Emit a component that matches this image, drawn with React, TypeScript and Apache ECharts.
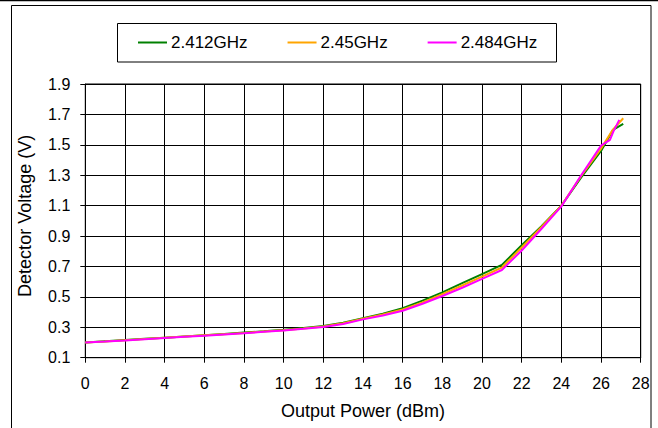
import React, { useEffect, useRef } from "react";
import * as echarts from "echarts";

const seriesNames = ["2.412GHz", "2.45GHz", "2.484GHz"];
const seriesColors = ["#008000", "#FFA500", "#FF00FF"];

const powerGreen = [0, 1, 2, 3, 4, 5, 6, 7, 8, 9, 10, 11, 12, 13, 14, 15, 16, 17, 18, 19, 20, 21, 22, 23, 24, 25, 26, 26.6, 27.12];
const voltGreen = [0.2, 0.208, 0.216, 0.224, 0.232, 0.24, 0.248, 0.256, 0.265, 0.274, 0.284, 0.295, 0.308, 0.33, 0.36, 0.39, 0.425, 0.475, 0.53, 0.59, 0.65, 0.71, 0.84, 0.965, 1.1, 1.285, 1.46, 1.598, 1.637];

const powerOrange = [0, 1, 2, 3, 4, 5, 6, 7, 8, 9, 10, 11, 12, 13, 14, 15, 16, 17, 18, 19, 20, 21, 22, 23, 24, 25, 26, 26.6, 27.12];
const voltOrange = [0.2, 0.207, 0.215, 0.223, 0.231, 0.239, 0.247, 0.255, 0.263, 0.272, 0.281, 0.292, 0.305, 0.326, 0.356, 0.385, 0.417, 0.463, 0.518, 0.575, 0.633, 0.693, 0.825, 0.96, 1.1, 1.295, 1.475, 1.6, 1.675];

const powerMagenta = [0, 1, 2, 3, 4, 5, 6, 7, 8, 9, 10, 11, 12, 13, 14, 15, 16, 17, 18, 19, 20, 21, 22, 23, 24, 25, 26, 26.45, 26.62, 26.92];
const voltMagenta = [0.2, 0.206, 0.213, 0.221, 0.229, 0.237, 0.245, 0.253, 0.261, 0.27, 0.279, 0.29, 0.302, 0.322, 0.352, 0.378, 0.409, 0.455, 0.506, 0.56, 0.618, 0.677, 0.805, 0.948, 1.095, 1.3, 1.495, 1.532, 1.587, 1.664];

const xTitle = "Output Power (dBm)";
const yTitle = "Detector Voltage (V)";

const FONT = "'Liberation Sans', Arial, sans-serif";

function pairs(xs: number[], ys: number[]) {
  return xs.map((x, i) => [x, ys[i]]);
}

export default function App() {
  const ref = useRef<HTMLDivElement>(null);
  useEffect(() => {
    if (!ref.current) return;
    const chart = echarts.init(ref.current, null, { renderer: "svg" });
    const allData = [
      pairs(powerGreen, voltGreen),
      pairs(powerOrange, voltOrange),
      pairs(powerMagenta, voltMagenta),
    ];
    chart.setOption({
      animation: false,
      backgroundColor: "#fff",
      textStyle: { fontFamily: FONT, color: "#000" },
      graphic: [
        { type: "line", shape: { x1: 0, y1: 0.5, x2: 658, y2: 0.5 }, style: { stroke: "#000", lineWidth: 1.5 } },
        { type: "rect", shape: { x: 11.5, y: 5.5, width: 639.5, height: 430 }, style: { fill: "none", stroke: "#000", lineWidth: 1 } },
        { type: "rect", shape: { x: 117.5, y: 23.5, width: 439, height: 38.5 }, style: { fill: "none", stroke: "#000", lineWidth: 1 } },
      ],
      legend: {
        left: 138,
        top: 34,
        padding: 0,
        itemGap: 40,
        itemWidth: 29,
        itemHeight: 2,
        icon: "rect",
        textStyle: { fontSize: 17, fontFamily: FONT, color: "#000", padding: [0, 0, 0, -1] },
        data: seriesNames,
      },
      grid: {
        left: 85.3,
        right: 17.3,
        top: 84,
        bottom: 70.3,
        show: true,
        borderColor: "#000",
        borderWidth: 1,
      },
      xAxis: {
        type: "value",
        min: 0,
        max: 28,
        interval: 2,
        name: xTitle,
        nameLocation: "middle",
        nameGap: 44,
        nameTextStyle: { fontSize: 18, fontFamily: FONT, color: "#000" },
        axisLine: { show: true, lineStyle: { color: "#000", width: 1 } },
        axisTick: { show: true, inside: false, length: 5, lineStyle: { color: "#000" } },
        axisLabel: { fontSize: 16, fontFamily: FONT, color: "#000", margin: 18 },
        splitLine: { show: true, lineStyle: { color: "#000", width: 1 } },
      },
      yAxis: {
        type: "value",
        min: 0.1,
        max: 1.9,
        interval: 0.2,
        name: yTitle,
        nameLocation: "middle",
        nameGap: 51,
        nameTextStyle: { fontSize: 18, fontFamily: FONT, color: "#000", padding: [0, 0, 0, 10] },
        axisLine: { show: true, lineStyle: { color: "#000", width: 1 } },
        axisTick: { show: true, inside: false, length: 5, lineStyle: { color: "#000" } },
        axisLabel: {
          fontSize: 16,
          fontFamily: FONT,
          color: "#000",
          margin: 15,
          formatter: (v: number) => v.toFixed(1),
        },
        splitLine: { show: true, lineStyle: { color: "#000", width: 1 } },
      },
      series: seriesNames.map((name, i) => ({
        name,
        type: "line",
        data: allData[i],
        showSymbol: false,
        symbol: "none",
        smooth: false,
        color: seriesColors[i],
        lineStyle: { color: seriesColors[i], width: 2 },
        z: 3 + i,
      })),
    });
    return () => chart.dispose();
  }, []);
  return (
    <div
      ref={ref}
      style={{ position: "absolute", left: 0, top: 0, width: 658, height: 428, background: "#fff" }}
    />
  );
}
